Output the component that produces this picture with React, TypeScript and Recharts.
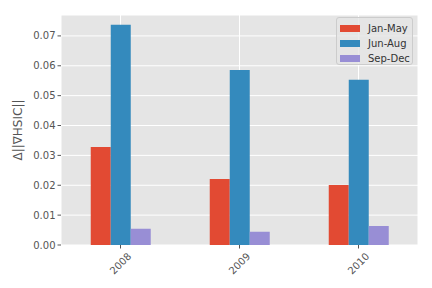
import { Bar, BarChart, CartesianGrid, Legend, XAxis, YAxis } from "recharts"

const YEARS = ["2008", "2009", "2010"]
const JAN_MAY = [0.0328, 0.0221, 0.0201]
const JUN_AUG = [0.0737, 0.0586, 0.0553]
const SEP_DEC = [0.0054, 0.0044, 0.0064]
const Y_TICKS = [0, 0.01, 0.02, 0.03, 0.04, 0.05, 0.06, 0.07]

const SERIES = [
  { key: "janMay", name: "Jan-May", color: "#E24A33" },
  { key: "junAug", name: "Jun-Aug", color: "#348ABD" },
  { key: "sepDec", name: "Sep-Dec", color: "#988ED5" },
]

const FONT = "DejaVu Sans, sans-serif"

function XTick(props: any) {
  const { x, y, payload } = props
  return (
    <text
      transform={`translate(${x},${y + 13}) rotate(-45)`}
      textAnchor="middle"
      dominantBaseline="central"
      fontSize={10}
      fontFamily={FONT}
      fill="#555555"
    >
      {payload.value}
    </text>
  )
}

function LegendBox() {
  return (
    <div
      style={{
        position: "absolute",
        left: 336,
        top: 17,
        width: 77,
        height: 48,
        background: "rgba(229,229,229,0.8)",
        border: "1px solid #cccccc",
        borderRadius: 3,
        boxSizing: "border-box",
        fontFamily: FONT,
        fontSize: 10,
        color: "#333333",
      }}
    >
      {SERIES.map((s, i) => (
        <div
          key={s.key}
          style={{ position: "absolute", left: 3, top: 4 + i * 15, height: 12, display: "flex", alignItems: "center" }}
        >
          <span style={{ display: "inline-block", width: 20, height: 7, background: s.color, marginRight: 8 }} />
          <span>{s.name}</span>
        </div>
      ))}
    </div>
  )
}

export default function App() {
  const data = YEARS.map((y, i) => ({
    year: y,
    janMay: JAN_MAY[i],
    junAug: JUN_AUG[i],
    sepDec: SEP_DEC[i],
  }))

  return (
    <div style={{ position: "absolute", left: 0, top: 0, width: 432, height: 288, background: "#fff" }}>
      <BarChart
        width={432}
        height={288}
        data={data}
        margin={{ top: 15, right: 14, bottom: 0, left: 0 }}
        barCategoryGap="25%"
        barGap={0}
      >
        <CartesianGrid stroke="#ffffff" strokeWidth={1} fill="#E5E5E5" />
        <XAxis
          dataKey="year"
          height={43}
          axisLine={false}
          tickLine={{ stroke: "#555555" }}
          tickSize={3.5}
          tick={<XTick />}
          interval={0}
        />
        <YAxis
          width={61}
          domain={[0, 0.077]}
          ticks={Y_TICKS}
          allowDataOverflow
          axisLine={false}
          tickLine={{ stroke: "#555555" }}
          tickSize={3.5}
          tickFormatter={(v) => Number(v).toFixed(2)}
          tick={{ fontSize: 10, fontFamily: FONT, fill: "#555555" }}
          label={{
            value: "Δ||∇HSIC||",
            angle: -90,
            position: "insideLeft",
            offset: 18,
            style: { fontSize: 12, fontFamily: FONT, fill: "#555555", textAnchor: "middle" },
          }}
        />
        {SERIES.map((s) => (
          <Bar key={s.key} dataKey={s.key} name={s.name} fill={s.color} isAnimationActive={false} />
        ))}
        <Legend content={() => null} />
      </BarChart>
      <LegendBox />
    </div>
  )
}
